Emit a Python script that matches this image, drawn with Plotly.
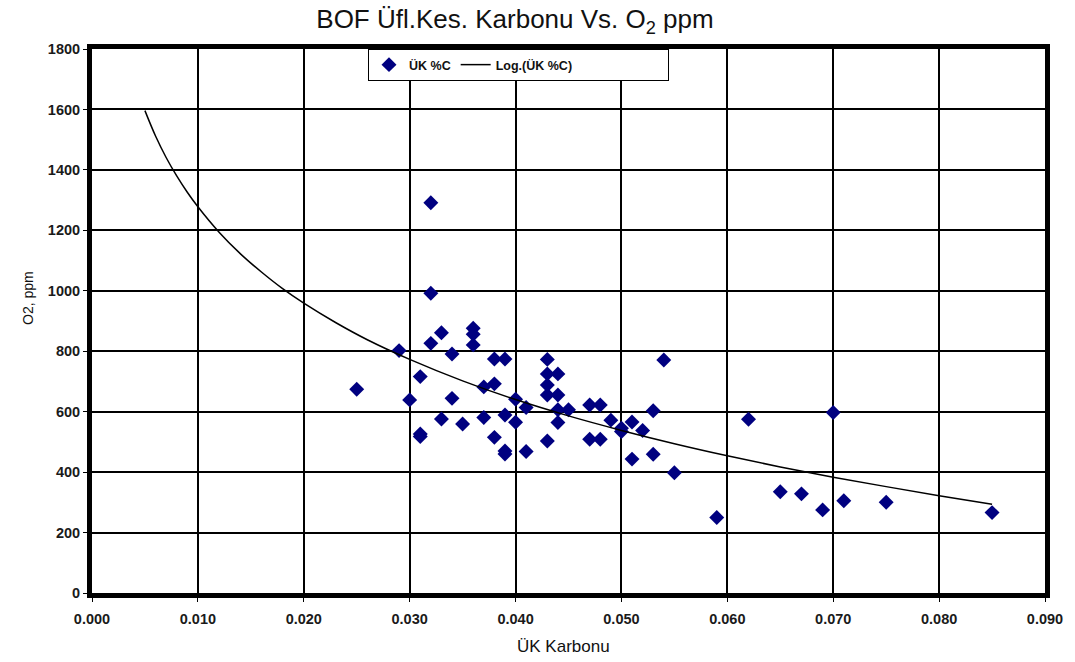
import plotly.graph_objects as go

# Scatter data: ÜK %C (x) vs O2 ppm (y)
carbon = [0.025, 0.029, 0.030, 0.031, 0.031, 0.031, 0.032, 0.032, 0.032, 0.033,
          0.033, 0.034, 0.034, 0.035, 0.036, 0.036, 0.036, 0.037, 0.037, 0.038,
          0.038, 0.038, 0.039, 0.039, 0.039, 0.039, 0.040, 0.040, 0.041, 0.041,
          0.043, 0.043, 0.043, 0.043, 0.043, 0.044, 0.044, 0.044, 0.044, 0.045,
          0.047, 0.047, 0.048, 0.048, 0.049, 0.050, 0.050, 0.051, 0.051, 0.052,
          0.053, 0.053, 0.054, 0.055, 0.059, 0.062, 0.065, 0.067, 0.069, 0.070,
          0.071, 0.075, 0.085]
oxygen = [674, 802, 639, 716, 526, 518, 1291, 992, 826, 861,
          576, 791, 644, 559, 876, 856, 821, 682, 581, 774,
          692, 515, 774, 589, 470, 460, 641, 565, 614, 468,
          773, 725, 688, 655, 503, 725, 655, 606, 564, 606,
          622, 509, 622, 509, 572, 545, 534, 566, 443, 538,
          603, 459, 771, 398, 250, 575, 335, 328, 275, 597,
          305, 300, 266]

# Logarithmic trendline, points
trend_x = [0.005, 0.006, 0.007, 0.008, 0.009, 0.010, 0.012, 0.014, 0.016, 0.018,
           0.020, 0.023, 0.026, 0.030, 0.035, 0.040, 0.045, 0.050, 0.055, 0.060,
           0.065, 0.070, 0.075, 0.080, 0.085]
trend_y = [1596, 1512, 1441, 1380, 1326, 1278, 1194, 1123, 1062, 1007,
           959, 895, 838, 773, 702, 640, 586, 538, 494, 454,
           417, 383, 352, 322, 294]

x_ticks = [0.000, 0.010, 0.020, 0.030, 0.040, 0.050, 0.060, 0.070, 0.080, 0.090]
y_ticks = [0, 200, 400, 600, 800, 1000, 1200, 1400, 1600, 1800]

FONT = "Liberation Sans, Arial, sans-serif"
W, H = 1075, 662
# plot-area pixel box (for converting label positions to paper fractions)
PL, PR, PT, PB = 92, 1045, 49, 593


def px_x(px):
    return (px - PL) / (PR - PL)


def px_y(py):
    return (PB - py) / (PB - PT)


fig = go.Figure()
fig.add_trace(go.Scatter(
    x=carbon, y=oxygen, mode="markers", name="ÜK %C",
    marker=dict(symbol="diamond", size=11.5, color="#000080",
                line=dict(width=0)),
))
fig.add_trace(go.Scatter(
    x=trend_x, y=trend_y, mode="lines",
    name="Log.(ÜK %C)" + "\u00a0" * 26,
    line=dict(color="black", width=1.5, shape="spline"),
))

fig.update_layout(
    width=W, height=H,
    margin=dict(l=PL, r=W - PR, t=PT, b=H - PB),
    paper_bgcolor="white", plot_bgcolor="white",
    font=dict(family=FONT, color="black"),
    title=dict(text="BOF Üfl.Kes. Karbonu Vs. O<sub>2</sub> ppm",
               x=515 / W, xanchor="center", y=1 - 19 / H, yanchor="middle",
               font=dict(size=26, color="#111111")),
    showlegend=True,
    legend=dict(orientation="h", x=px_x(368), xanchor="left",
                y=1, yanchor="top", bgcolor="white",
                bordercolor="black", borderwidth=1,
                font=dict(size=12.5, weight="bold", color="#111111"),
                itemwidth=30, tracegroupgap=0),
    annotations=[
        dict(text="ÜK Karbonu", x=px_x(563), y=px_y(646),
             xref="paper", yref="paper", xanchor="center", yanchor="middle",
             showarrow=False, font=dict(size=17, color="#111111")),
        dict(text="O2, ppm", x=px_x(28), y=px_y(298), textangle=-90,
             xref="paper", yref="paper", xanchor="center", yanchor="middle",
             showarrow=False, font=dict(size=14, color="#111111")),
    ],
)

fig.update_xaxes(
    range=[0, 0.09], tickvals=x_ticks, tickformat=".3f",
    showgrid=True, gridcolor="black", gridwidth=1.5,
    showline=True, linecolor="black", linewidth=5, mirror=True,
    ticks="outside", ticklen=4, tickcolor="black",
    ticklabelstandoff=5,
    tickfont=dict(size=14.5, weight="bold", color="#1a1a1a"),
    zeroline=False,
)
fig.update_yaxes(
    range=[0, 1800], tickvals=y_ticks,
    showgrid=True, gridcolor="black", gridwidth=1.5,
    showline=True, linecolor="black", linewidth=5, mirror=True,
    ticks="outside", ticklen=4, tickcolor="black",
    tickfont=dict(size=14.5, weight="bold", color="#1a1a1a"),
    zeroline=False,
)

fig.write_html("out.html")
